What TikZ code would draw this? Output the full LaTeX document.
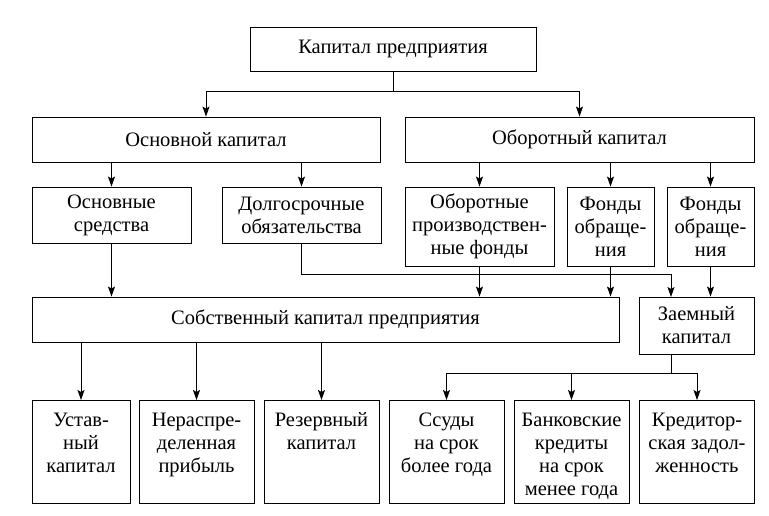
\documentclass[tikz,border=0pt]{standalone}
\usepackage{fontspec}
\setmainfont{Liberation Serif}
\usetikzlibrary{arrows.meta}
\newcommand{\toplines}[1]{\begin{tabular}[t]{@{}c@{}}#1\end{tabular}}
\tikzset{
  box/.style={draw, line width=.9pt, inner sep=0pt, align=center},
  topbox/.style={box, anchor=north, text height=26pt, text depth=77pt},
  arr/.style={line width=.9pt, -{Stealth[length=10pt,width=7pt,inset=2pt]}},
  ln/.style={line width=.9pt}
}
\begin{document}
\begin{tikzpicture}[x=1pt,y=-1pt,font=\fontsize{20.5}{23}\selectfont]
  \useasboundingbox (0,0) rectangle (769,516);
  % levels 1 and 2
  \node[box, minimum width=286pt, minimum height=44pt] (cap) at (393,49) {Капитал предприятия};
  \node[box, minimum width=348pt, minimum height=45pt] (osn) at (206,139.5) {Основной капитал};
  \node[box, minimum width=349pt, minimum height=45pt] (obor) at (579.5,139.5) {Оборотный капитал};
  % level 3
  \node[box, minimum width=159pt, minimum height=56pt] (sred) at (111.5,215) {Основные\\средства};
  \node[box, minimum width=159pt, minimum height=56pt] (dolg) at (301.5,215) {Долгосрочные\\обязательства};
  \node[box, minimum width=149pt, minimum height=79pt] (opf) at (479.5,226.5) {Оборотные\\производствен-\\ные фонды};
  \node[box, minimum width=87pt, minimum height=79pt] (fo1) at (610.5,226.5) {Фонды\\обраще-\\ния};
  \node[box, minimum width=87pt, minimum height=79pt] (fo2) at (710.5,226.5) {Фонды\\обраще-\\ния};
  % level 4
  \node[box, minimum width=587pt, minimum height=45pt] (sob) at (325.5,319.5) {Собственный капитал предприятия};
  \node[box, minimum width=115pt, minimum height=57pt] (zaem) at (696.5,325.5) {Заемный\\капитал};
  % level 5
  \node[topbox, minimum width=98pt] (ust) at (81,400) {\toplines{Устав-\\ный\\капитал}};
  \node[topbox, minimum width=115pt] (ner) at (196.5,400) {\toplines{Нераспре-\\деленная\\прибыль}};
  \node[topbox, minimum width=115pt] (rez) at (321.5,400) {\toplines{Резервный\\капитал}};
  \node[topbox, minimum width=115pt] (ssud) at (446.5,400) {\toplines{Ссуды\\на срок\\более года}};
  \node[topbox, minimum width=115pt] (bank) at (571.5,400) {\toplines{Банковские\\кредиты\\на срок\\менее года}};
  \node[topbox, minimum width=115pt] (kred) at (697,400) {\toplines{Кредитор-\\ская задол-\\женность}};
  \coordinate (zin) at (671,297);
  \coordinate (zout) at (671,354);
  % connectors
  \draw[arr] (cap.south) -- ++(0,20) -| (osn.north);
  \draw[arr] (cap.south) -- ++(0,20) -| (obor.north);
  \foreach \n in {sred,dolg} \draw[arr] (\n.north |- osn.south) -- (\n.north);
  \foreach \n in {opf,fo1,fo2} \draw[arr] (\n.north |- obor.south) -- (\n.north);
  \foreach \n in {sred,opf,fo1} \draw[arr] (\n.south) -- (\n.south |- sob.north);
  \draw[arr] (fo2.south) -- (fo2.south |- zaem.north);
  \draw[arr] (dolg.south) -- ++(0,31) -| (zin);
  \foreach \n in {ust,ner,rez} \draw[arr] (\n.north |- sob.south) -- (\n.north);
  \foreach \n in {ssud,bank,kred} \draw[arr] (zout) -- ++(0,19) -| (\n.north);
\end{tikzpicture}
\end{document}
